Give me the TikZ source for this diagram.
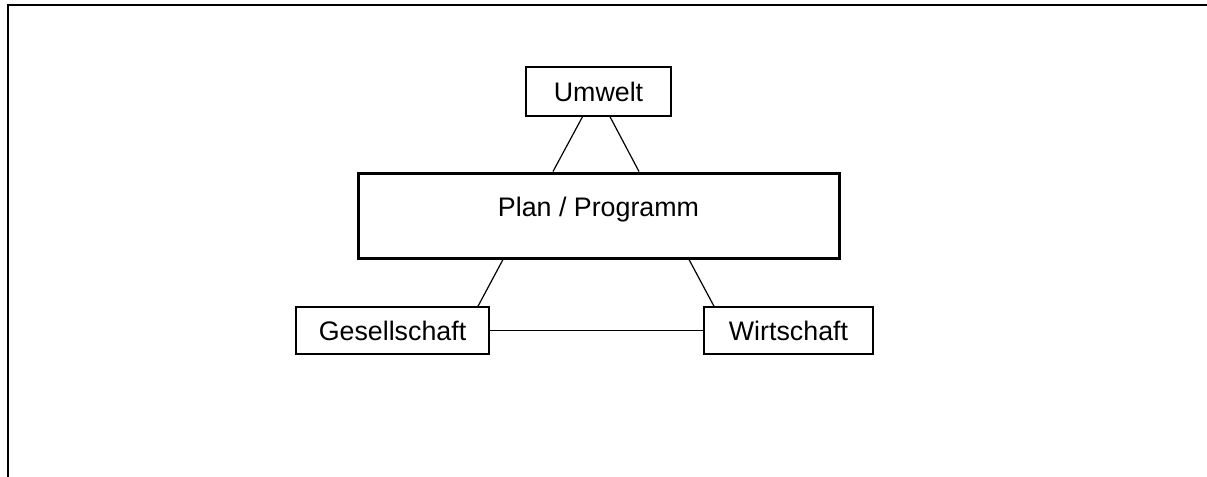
\documentclass[tikz,border=0pt]{standalone}
\usepackage{fontspec}
\setmainfont{Liberation Sans}
\usetikzlibrary{calc}

\begin{document}
\begin{tikzpicture}[x=0.5pt, y=-0.5pt,
    every node/.style={font=\fontsize{13.4}{16}\selectfont, inner sep=0pt},
    feld/.style={draw, line width=0.75pt, minimum height=23.5pt},
    kern/.style={draw, line width=1.5pt, minimum width=240.5pt, minimum height=42.5pt, text depth=9pt},
    band/.style={line width=0.6pt}]
  \useasboundingbox (0,0) rectangle (1207,477);
  % Rahmen
  \draw[line width=1pt] (8,480) -- (8,5) -- (1210,5);

  \node[kern] (plan) at (598.5,215.5) {Plan / Programm};
  \node[feld, minimum width=72.5pt, minimum height=24.5pt] (umwelt) at (598.5,91.5) {Umwelt};
  \node[feld, minimum width=96.5pt] (gesell) at (392.5,330.5) {Gesellschaft};
  \node[feld, minimum width=84.5pt] (wirt) at (788.5,330.5) {Wirtschaft};

  \draw[band] ($(umwelt.south)+(-16,0)$) -- ($(plan.north)+(-45.5,0)$);
  \draw[band] ($(umwelt.south)+(11.5,0)$) -- ($(plan.north)+(40.5,0)$);
  \draw[band] ($(plan.south)+(-95.5,0)$) -- ($(gesell.north)+(85.5,0)$);
  \draw[band] ($(plan.south)+(90.5,0)$) -- ($(wirt.north)+(-74.5,0)$);
  \draw[band] (gesell.east) -- (wirt.west);
\end{tikzpicture}
\end{document}
